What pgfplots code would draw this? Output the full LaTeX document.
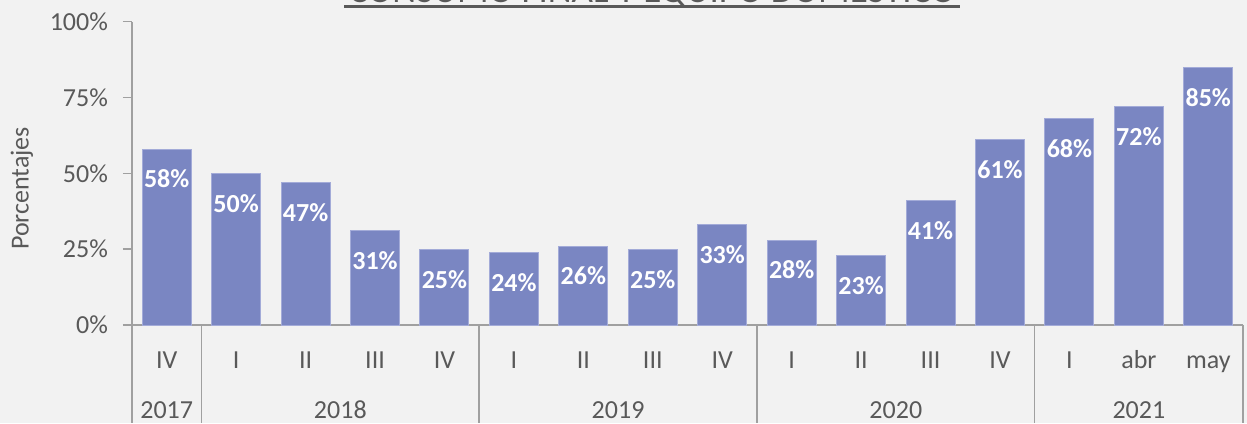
\documentclass[border=0pt]{standalone}
\usepackage{fontspec}
\setmainfont{Carlito}
\usepackage{pgfplots}
\pgfplotsset{compat=1.18}
\definecolor{bg}{HTML}{F2F2F2}
\definecolor{barc}{HTML}{7A86C2}
\definecolor{barb}{HTML}{A3ABD8}
\definecolor{txt}{HTML}{595959}
\definecolor{axc}{HTML}{A0A0A0}
\begin{document}
\begin{tikzpicture}[font=\fontsize{13}{15}\selectfont]
\clip (-66pt,-49pt) rectangle (557.5pt,162.5pt);
\fill[bg] (-66pt,-49pt) rectangle (557.5pt,162.5pt);
\begin{axis}[
 at={(0,0)}, anchor=south west,
 scale only axis, width=555.5pt, height=151.65pt,
 ybar, bar width=24.5pt,
 xmin=-0.5, xmax=15.5, ymin=0, ymax=100,
 axis lines=left, axis line style={-, draw=axc, line width=0.75pt},
 xtick=\empty,
 ytick={0,25,50,75,100},
 yticklabel={\pgfmathprintnumber[assume math mode=true]{\tick}\%},
 yticklabel style={text=txt, font=\fontsize{13}{15}\selectfont, xshift=-4pt},
 tick align=outside, major tick length=4.5pt,
 tick style={draw=axc, line width=0.75pt},
 nodes near coords={\pgfmathprintnumber[assume math mode=true]{\pgfplotspointmeta}\%},
 every node near coord/.append style={anchor=center, yshift=-15pt, text=white, font=\fontsize{13}{15}\selectfont\bfseries},
 clip=false,
]
\addplot[fill=barc, draw=barb, line width=0.5pt] coordinates {
(0,58) (1,50) (2,47) (3,31) (4,25) (5,24) (6,26) (7,25)
(8,33) (9,28) (10,23) (11,41) (12,61) (13,68) (14,72) (15,85)};
\end{axis}
\foreach \i/\l in {0/IV,1/I,2/II,3/III,4/IV,5/I,6/II,7/III,8/IV,9/I,10/II,11/III,12/IV,13/I,14/abr,15/may}
  \node[anchor=base, text=txt] at ({17.36pt+\i*34.72pt},-21.5pt) {\l};
\foreach \c/\y in {0/2017,2.5/2018,6.5/2019,10.5/2020,14/2021}
  \node[anchor=base, text=txt] at ({17.36pt+\c*34.72pt},-46.5pt) {\y};
\foreach \k in {0,1,5,9,13,16}
  \draw[axc, line width=0.75pt] ({\k*34.72pt},0) -- ({\k*34.72pt},-49pt);
\node[rotate=90, text=txt] at (-55pt,68.25pt) {Porcentajes};
\node[anchor=base, font=\fontsize{18.5}{22}\selectfont, text=txt] at (260pt,161.25pt) {CONSUMO FINAL Y EQUIPO DOMÉSTICO};
\draw[txt, line width=1.25pt] (106pt,159.25pt) -- (414pt,159.25pt);
\end{tikzpicture}
\end{document}
